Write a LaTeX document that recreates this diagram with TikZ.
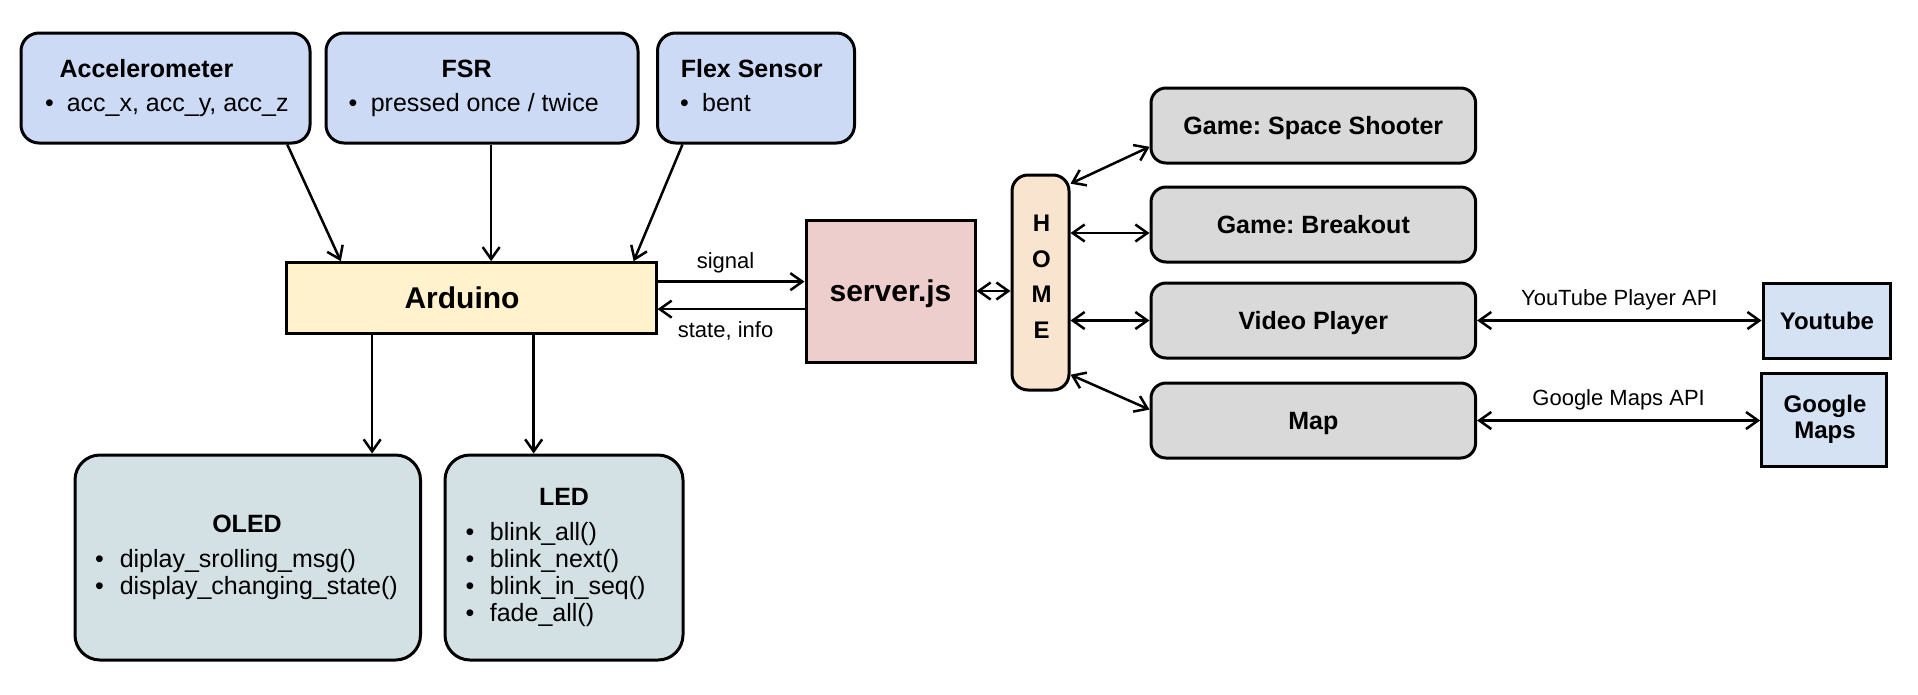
\documentclass[tikz,border=0pt]{standalone}
\usepackage{fontspec}
\setmainfont{Liberation Sans}
\usetikzlibrary{arrows.meta,calc}
\definecolor{sensorblue}{HTML}{CCDAF5}
\definecolor{ardyellow}{HTML}{FFF2CC}
\definecolor{srvpink}{HTML}{EECDCD}
\definecolor{homeorange}{HTML}{F9E5CF}
\definecolor{greybox}{HTML}{D9D9D9}
\definecolor{outblue}{HTML}{D3E0E4}
\definecolor{apiblue}{HTML}{D4E2F4}
\newcommand{\fsz}[1]{\fontsize{#1}{#1}\selectfont}
\newcommand{\bul}[2]{\makebox[#1][l]{\textbullet}#2}
\frenchspacing
\begin{document}
\begin{tikzpicture}[x=1pt,y=-1pt,
  >={Straight Barb[length=12pt,width=17pt]},
  box/.style={draw=black, line width=3pt, inner sep=0pt},
  rbox/.style={box, rounded corners=#1},
  arr/.style={line width=2.5pt, ->},
  darr/.style={line width=2.5pt, <->},
  ttl/.style={inner sep=0pt, anchor=base, font=\fsz{25}\bfseries},
  itm/.style={inner sep=0pt, anchor=base west, font=\fsz{25}},
  lbl/.style={inner sep=0pt, font=\fsz{22}, text height=16pt, text depth=4.6pt},
  capc/.style={text height=#1, text depth=0pt},
]
\useasboundingbox (0,0) rectangle (1918,694);
\fill[white] (0,0) rectangle (1918,694);

% sensor boxes
\node[rbox=18pt, fill=sensorblue, minimum width=289pt, minimum height=110pt] (acc) at (165.5,88) {};
\node[rbox=18pt, fill=sensorblue, minimum width=312pt, minimum height=110pt] (fsr) at (482,88) {};
\node[rbox=18pt, fill=sensorblue, minimum width=197pt, minimum height=110pt] (flex) at (756,88) {};
\node[ttl] (accT) at (146.5,77) {Accelerometer};
\node[itm] (accI) at (44.8,111) {\bul{21.8pt}{acc\_x, acc\_y, acc\_z}};
\node[ttl] (fsrT) at (466.7,77) {FSR};
\node[itm] (fsrI) at (348.3,111) {\bul{22.3pt}{pressed once / twice}};
\node[ttl] (flexT) at (751.7,77) {Flex Sensor};
\node[itm] (flexI) at (679.8,111) {\bul{22.2pt}{bent}};

% Arduino
\node[box, fill=ardyellow, minimum width=370pt, minimum height=70.6pt] (ard) at (471,298) {};
\node[inner sep=0pt, anchor=base, font=\fsz{30}\bfseries] (ardT) at (462,308) {Arduino};

% outputs
\node[rbox=25pt, fill=outblue, minimum width=345.5pt, minimum height=205pt] (oled) at (247.75,557.5) {};
\node[rbox=25pt, fill=outblue, minimum width=238pt, minimum height=205pt] (led) at (564,557.5) {};
\node[ttl] (oledT) at (247,532) {OLED};
\node[itm] (oled1) at (94.8,567) {\bul{24.8pt}{diplay\_srolling\_msg()}};
\node[itm] (oled2) at (94.8,594) {\bul{24.8pt}{display\_changing\_state()}};
\node[ttl] (ledT) at (564,505) {LED};
\node[itm] (led1) at (465.3,540) {\bul{24.4pt}{blink\_all()}};
\node[itm] (led2) at (465.3,567.3) {\bul{24.4pt}{blink\_next()}};
\node[itm] (led3) at (465.3,594.6) {\bul{24.4pt}{blink\_in\_seq()}};
\node[itm] (led4) at (465.3,621.9) {\bul{24.4pt}{fade\_all()}};

% server
\node[box, fill=srvpink, minimum width=169pt, minimum height=142pt, font=\fsz{30}\bfseries, capc=21.5pt] (srv) at (890.5,291) {server.js};

% HOME
\node[rbox=16pt, fill=homeorange, minimum width=57pt, minimum height=215pt] (home) at (1040.5,282.5) {};
\node[inner sep=0pt, anchor=base, font=\fsz{24}\bfseries] (hH) at (1041.5,231.5) {H};
\node[inner sep=0pt, anchor=base, font=\fsz{24}\bfseries] (hO) at (1041.5,267) {O};
\node[inner sep=0pt, anchor=base, font=\fsz{24}\bfseries] (hM) at (1041.5,302.5) {M};
\node[inner sep=0pt, anchor=base, font=\fsz{24}\bfseries] (hE) at (1041.5,338) {E};

% apps
\tikzset{app/.style={rbox=15pt, fill=greybox, minimum width=324.6pt, minimum height=75pt, font=\fsz{25}\bfseries, capc=17.9pt}}
\node[app] (space) at (1313.3,125.5) {Game: Space Shooter};
\node[app] (brk) at (1313.3,224.5) {Game: Breakout};
\node[app] (vid) at (1313.3,320.5) {Video Player};
\node[app] (map) at (1313.3,420.5) {Map};

% external
\node[box, fill=apiblue, minimum width=127.7pt, minimum height=75pt, font=\fsz{24}\bfseries, capc=17.2pt] (yt) at (1826.9,320.5) {Youtube};
\node[box, fill=apiblue, minimum width=125.3pt, minimum height=92.7pt] (gm) at (1824.3,420.3) {};
\node[inner sep=0pt, anchor=base, font=\fsz{24}\bfseries] (gmT1) at (1825,412) {Google};
\node[inner sep=0pt, anchor=base, font=\fsz{24}\bfseries] (gmT2) at (1825,438.3) {Maps};

% connectors: sensors -> Arduino
\draw[arr] ($(acc.south west)!0.917!(acc.south east)$) -- ($(ard.north west)!0.151!(ard.north east)$);
\coordinate (f1) at ($(fsr.south west)!0.529!(fsr.south east)$);
\draw[arr] (f1) -- (f1 |- ard.north);
\draw[arr] ($(flex.south west)!0.1325!(flex.south east)$) -- ($(ard.north west)!0.936!(ard.north east)$);

% Arduino -> outputs
\coordinate (o1) at ($(ard.south west)!0.235!(ard.south east)$);
\draw[arr] (o1) -- (o1 |- oled.north);
\coordinate (l1) at ($(ard.south west)!0.668!(ard.south east)$);
\draw[arr] (l1) -- (l1 |- led.north);

% Arduino <-> server
\coordinate (s1) at ($(ard.north east)!0.278!(ard.south east)$);
\draw[arr] (s1) -- node[lbl, pos=0.463, above=7.7pt] (sigL) {signal} (s1 -| srv.west);
\coordinate (s2) at ($(ard.north east)!0.651!(ard.south east)$);
\draw[arr] (s2 -| srv.west) -- node[lbl, pos=0.537, below=11.3pt] (stL) {state, info} (s2);

% server <-> HOME
\draw[darr] (srv.east) -- (srv.east -| home.west);

% HOME <-> apps
\draw[darr] ($(home.north east)!0.0465!(home.south east)$) -- ($(space.north west)!0.773!(space.south west)$);
\coordinate (b1) at ($(brk.north west)!0.609!(brk.south west)$);
\draw[darr] (b1 -| home.east) -- (b1);
\draw[darr] (vid.west -| home.east) -- (vid.west);
\draw[darr] ($(home.north east)!0.923!(home.south east)$) -- ($(map.north west)!0.36!(map.south west)$);

% apps <-> external
\draw[darr] (vid.east) -- node[lbl, above=9.4pt] (ytL) {YouTube Player API} (vid.east -| yt.west);
\draw[darr] (map.east) -- node[lbl, above=9.1pt] (gmL) {Google Maps API} (map.east -| gm.west);
\end{tikzpicture}
\end{document}
